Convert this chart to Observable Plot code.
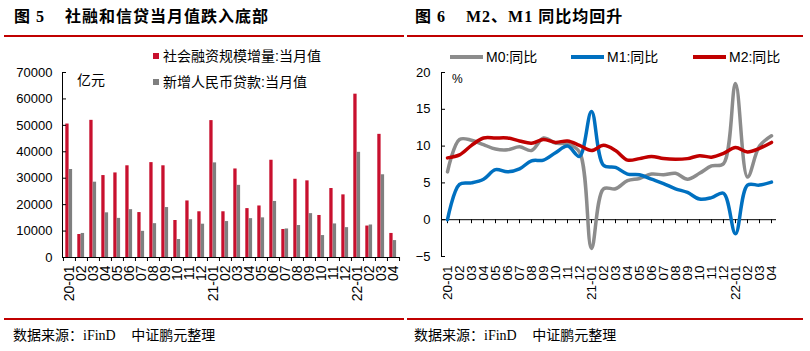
<!DOCTYPE html>
<html><head><meta charset="utf-8">
<script src="https://cdn.jsdelivr.net/npm/d3@7"></script>
<script src="https://cdn.jsdelivr.net/npm/@observablehq/plot@0.6"></script>
<style>
body{margin:0;background:#fff;}
#wrap{position:relative;width:810px;height:351px;overflow:hidden;font-family:"Liberation Sans",Arial,"Noto Sans CJK SC",sans-serif;color:#000;}
.title{position:absolute;top:9px;line-height:16px;font-family:"Liberation Serif","Times New Roman","Noto Sans CJK SC",serif;font-weight:bold;font-size:16px;letter-spacing:1px;white-space:nowrap;}
.rule{position:absolute;height:2px;background:#c00000;}
.src{position:absolute;top:327px;line-height:14px;font-size:14px;white-space:nowrap;font-family:"Noto Sans CJK SC",sans-serif;}
.src .en{font-family:"Liberation Serif","Times New Roman",serif;}
.panel{position:absolute;top:0;}
.leg{position:absolute;font-size:14px;line-height:14px;white-space:nowrap;font-family:"Liberation Sans","Noto Sans CJK SC",sans-serif;}
.sw{position:absolute;}
</style>
</head><body>
<div id="wrap">
  <div class="title" style="left:14px;">图 5&nbsp;&nbsp;&nbsp; 社融和信贷当月值跌入底部</div>
  <div class="rule" style="left:4px;width:400px;top:35px;"></div>
  <div class="title" style="left:415px;">图 6&nbsp;&nbsp;&nbsp; M2、M1 同比均回升</div>
  <div class="rule" style="left:407px;width:396px;top:35px;"></div>
  <div id="p1" class="panel" style="left:0;"></div>
  <div id="p2" class="panel" style="left:405px;"></div>
  <div class="rule" style="left:4px;width:400px;top:318px;"></div>
  <div class="rule" style="left:407px;width:396px;top:318px;"></div>
  <div class="src" style="left:13px;">数据来源：<span class="en">iFinD</span>&nbsp;&nbsp;&nbsp;&nbsp; 中证鹏元整理</div>
  <div class="src" style="left:414px;">数据来源：<span class="en">iFinD</span>&nbsp;&nbsp;&nbsp;&nbsp; 中证鹏元整理</div>
</div>
<script>
// ---------- data ----------
const months = ["2020-01","2020-02","2020-03","2020-04","2020-05","2020-06","2020-07","2020-08","2020-09","2020-10","2020-11","2020-12",
  "2021-01","2021-02","2021-03","2021-04","2021-05","2021-06","2021-07","2021-08","2021-09","2021-10","2021-11","2021-12",
  "2022-01","2022-02","2022-03","2022-04"];
const seriesBar = ["社会融资规模增量:当月值", "新增人民币贷款:当月值"];
const tsf   = [50500, 8700, 51900, 31000, 32000, 34700, 17000, 35900, 34700, 14000, 21400, 17300,
               51800, 17300, 33500, 18500, 19500, 36800, 10600, 29600, 29000, 15900, 26100, 23700,
               61800, 11900, 46600, 9100];
const loans = [33300, 9100, 28500, 16900, 14800, 18100, 9900, 12800, 18900, 6800, 14300, 12600,
               35800, 13600, 27300, 14700, 15000, 21200, 10800, 12100, 16600, 8300, 12700, 11300,
               39800, 12300, 31300, 6400];
const yTicksL = [0, 10000, 20000, 30000, 40000, 50000, 60000, 70000];
const unitL = "亿元";

const seriesLine = ["M0:同比", "M1:同比", "M2:同比"];
const m0 = [6.5, 10.9, 10.8, 10.2, 9.6, 9.5, 9.9, 9.4, 11.1, 10.4, 10.3, 9.2,
            -3.9, 4.2, 4.2, 5.3, 5.6, 6.2, 6.1, 6.3, 5.5, 6.3, 7.3, 7.6,
            18.5, 5.8, 10.0, 11.4];
const m1 = [0.0, 4.8, 5.0, 5.5, 6.8, 6.5, 6.9, 8.0, 8.1, 9.1, 10.0, 8.6,
            14.7, 7.4, 7.1, 6.2, 6.1, 5.5, 4.9, 4.2, 3.7, 2.8, 3.0, 3.6,
            -1.9, 4.7, 4.7, 5.1];
const m2 = [8.4, 8.8, 10.1, 11.1, 11.1, 11.1, 10.7, 10.4, 10.9, 10.5, 10.7, 10.1,
            9.4, 10.1, 9.4, 8.1, 8.3, 8.6, 8.3, 8.2, 8.3, 8.7, 8.5, 9.0,
            9.8, 9.2, 9.7, 10.5];
const yTicksR = [-5, 0, 5, 10, 15, 20];
const unitR = "%";

// ---------- styles ----------
const barColors = ["#c8102e", "#7f7f7f"];
const lineColors = ["#8c8c8c", "#0070c0", "#c00000"];
const fmtMonth = d => d.endsWith("-01") ? d.slice(2) : d.slice(5);

// ---------- left chart ----------
const barData = [];
months.forEach((m, i) => {
  barData.push({month: m, series: seriesBar[0], value: tsf[i]});
  barData.push({month: m, series: seriesBar[1], value: loans[i]});
});
const W = 405, H = 320;
const L = {l: 62, r: 5, t: 72, b: 63};
const step = (W - L.l - L.r) / months.length;
const left = Plot.plot({
  width: W, height: H, marginLeft: L.l, marginRight: L.r, marginTop: L.t, marginBottom: L.b,
  style: {fontFamily: "'Liberation Sans', Arial, sans-serif", fontSize: "13px", color: "#000", background: "transparent", overflow: "visible"},
  x: {type: "band", domain: months, padding: 0, axis: null},
  y: {domain: [0, 70000], axis: null},
  marks: [
    Plot.barY(barData.filter(d => d.series === seriesBar[0]), {x: "month", y: "value", fill: barColors[0], insetLeft: 2.3, insetRight: 6.4}),
    Plot.barY(barData.filter(d => d.series === seriesBar[1]), {x: "month", y: "value", fill: barColors[1], insetLeft: 5.7, insetRight: 2.9}),
    Plot.axisY({ticks: yTicksL, tickSize: 0, tickPadding: 10, tickFormat: d => String(d), fontSize: 13, label: null}),
    Plot.axisY({ticks: yTicksL, tickSize: -4, text: null, label: null}),
    Plot.frame({anchor: "left"}),
    Plot.ruleY([0]),
    Plot.axisX({tickSize: 0, tickRotate: -90, tickPadding: 8, tickFormat: fmtMonth, fontSize: 14, label: null}),
    Plot.axisX({tickSize: 4, text: null, dx: -step / 2, label: null}),
    Plot.axisX([months[months.length - 1]], {tickSize: 4, text: null, dx: step / 2, label: null})
  ]
});
document.getElementById("p1").appendChild(left);

// ---------- right chart ----------
const lineData = [];
[m0, m1, m2].forEach((arr, k) => arr.forEach((v, i) => lineData.push({month: months[i], series: seriesLine[k], value: v})));
const R = {l: 36, r: 34, t: 72, b: 64};
const right = Plot.plot({
  width: W, height: H, marginLeft: R.l, marginRight: R.r, marginTop: R.t, marginBottom: R.b,
  style: {fontFamily: "'Liberation Sans', Arial, sans-serif", fontSize: "13px", color: "#000", background: "transparent", overflow: "visible"},
  x: {type: "point", domain: months, padding: 0, axis: null},
  y: {domain: [-5, 20], axis: null},
  color: {domain: seriesLine, range: lineColors},
  marks: [
    Plot.axisY({ticks: yTicksR, tickSize: 0, tickPadding: 11, fontSize: 13, label: null}),
    Plot.axisY({ticks: yTicksR, tickSize: -4, text: null, label: null}),
    Plot.frame({anchor: "left"}),
    Plot.ruleY([0]),
    Plot.ruleX(months, {x: d => d, y1: 0, y2: 0, insetBottom: -4}),
    Plot.axisX({tickSize: 0, tickRotate: -90, tickPadding: 9, tickFormat: fmtMonth, fontSize: 13.5, label: null}),
    Plot.line(lineData, {x: "month", y: "value", z: "series", stroke: "series", strokeWidth: 3.5, curve: "catmull-rom"})
  ]
});
document.getElementById("p2").appendChild(right);

// ---------- legends & units ----------
const wrap = document.getElementById("wrap");
function add(html, style, cls) {
  const d = document.createElement("div");
  d.className = cls; d.innerHTML = html; Object.assign(d.style, style); wrap.appendChild(d);
}
add("", {left: "153px", top: "53px", width: "6px", height: "6px", background: barColors[0]}, "sw");
add(seriesBar[0], {left: "163px", top: "49px"}, "leg");
add("", {left: "153px", top: "79px", width: "6px", height: "6px", background: barColors[1]}, "sw");
add(seriesBar[1], {left: "163px", top: "75px"}, "leg");
add(unitL, {left: "77px", top: "72px", fontFamily: "'Noto Sans CJK SC'"}, "leg");

const legX = [450, 571, 693];
seriesLine.forEach((s, k) => {
  add("", {left: legX[k] + "px", top: "55px", width: "33px", height: "4px", background: lineColors[k]}, "sw");
  add(s, {left: (legX[k] + 36) + "px", top: "50px"}, "leg");
});
add(unitR, {left: "452px", top: "72px", fontSize: "12px"}, "leg");
</script>
</body></html>
